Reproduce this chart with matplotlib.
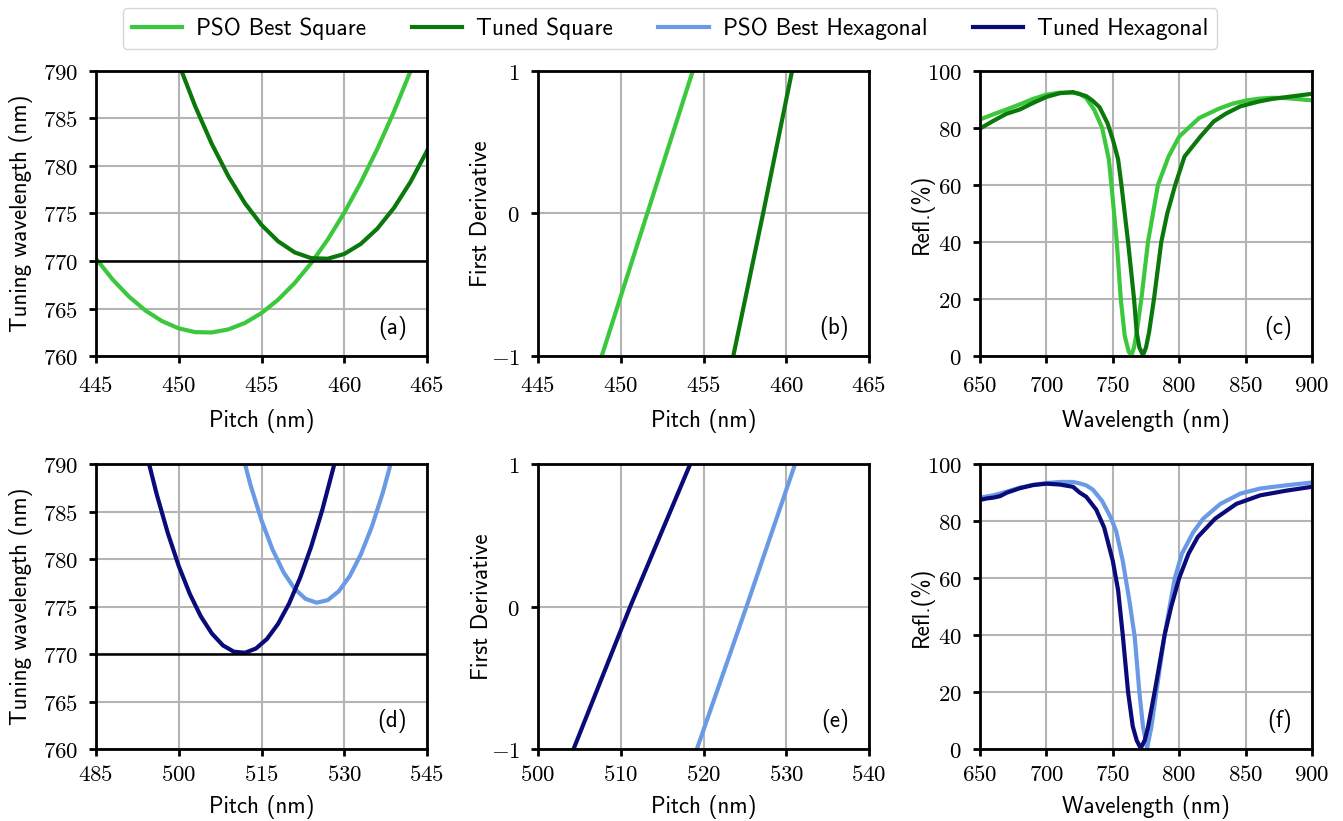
import numpy as np
import matplotlib
matplotlib.use("Agg")
import matplotlib.pyplot as plt
from matplotlib.ticker import FixedLocator, FuncFormatter
from matplotlib.lines import Line2D

plt.rcParams['mathtext.fontset'] = 'cm'
plt.rcParams['axes.unicode_minus'] = True

# ---------------- data ----------------
labels = ["PSO Best Square", "Tuned Square", "PSO Best Hexagonal", "Tuned Hexagonal"]
colors = ["#3cc83c", "#0b780b", "#6a9ae6", "#0a0a78"]

# (a) tuning wavelength vs pitch, square lattice
a_pitch_pso = [445, 446, 447, 448, 449, 450, 451, 452, 453, 454, 455, 456, 457, 458, 459, 460, 461, 462, 463, 464, 465]
a_wl_pso = [770.25, 768.06, 766.24, 764.77, 763.66, 762.91, 762.51, 762.48, 762.80, 763.48, 764.52,
            765.92, 767.67, 769.78, 772.25, 775.08, 778.27, 781.81, 785.71, 789.97, 794.6]
a_pitch_tuned = [449, 450, 451, 452, 453, 454, 455, 456, 457, 458, 459, 460, 461, 462, 463, 464, 465]
a_wl_tuned = [795.8, 790.76, 786.26, 782.31, 778.92, 776.08, 773.80, 772.08, 770.91, 770.30, 770.24,
              770.74, 771.80, 773.41, 775.58, 778.31, 781.59]
target_wl = 770

# (b) first derivative, square lattice
b_pitch_pso = [448.85, 451.6, 454.35]
b_der_pso = [-1, 0, 1]
b_pitch_tuned = [456.8, 458.6, 460.35]
b_der_tuned = [-1, 0, 1]

# (c) reflectance spectra, square lattice
c_wl_pso = [650, 660, 670, 680, 690, 700, 710, 720, 725, 730, 736, 742, 747, 749, 753, 756, 759, 762,
            764, 766, 768, 771.5, 776.5, 784, 792, 800, 815, 830, 840, 850, 860, 870, 880, 890, 900]
c_refl_pso = [83.0, 84.8, 86.5, 88.3, 90.2, 91.7, 92.4, 92.4, 92.0, 90.5, 86.4, 80, 69, 60, 40, 20, 7,
              1.5, 0.3, 3, 8.3, 20, 40, 60, 70, 77, 83.5, 86.8, 88.5, 89.6, 90.3, 90.6, 90.5, 90.1, 89.7]
c_wl_tuned = [650, 660, 670, 680, 690, 700, 710, 720, 730, 735, 740, 746, 750, 754, 756.5, 761.5, 766,
              768, 770, 772.7, 775, 777.3, 781, 786.5, 791, 797, 804, 816, 826, 835, 846, 860, 870, 880,
              890, 900]
c_refl_tuned = [79.8, 82.5, 85, 86.5, 88.8, 90.9, 92.2, 92.6, 91.2, 89.5, 87.3, 81.7, 76, 69, 60, 40, 20,
                8.3, 3, 0.3, 3, 8.3, 20, 40, 50, 60, 70, 77, 82.3, 85, 87.6, 89.3, 90.2, 90.8, 91.4, 92]

# (d) tuning wavelength vs pitch, hexagonal lattice
d_pitch_pso = [511, 513, 515, 517, 519, 521, 523, 525, 527, 529, 531, 533, 535, 537, 539]
d_wl_pso = [792.2, 787.80, 784.07, 781.00, 778.60, 776.87, 775.80, 775.40, 775.67, 776.60, 778.20,
            780.47, 783.40, 787.00, 791.26]
d_pitch_tuned = [494, 496, 498, 500, 502, 504, 506, 508, 510, 512, 514, 516, 518, 520, 522, 524, 526, 528, 530]
d_wl_tuned = [791.44, 786.82, 782.76, 779.26, 776.33, 773.96, 772.16, 770.91, 770.24, 770.13, 770.58,
              771.59, 773.17, 775.31, 778.02, 781.29, 785.13, 789.53, 794.49]

# (e) first derivative, hexagonal lattice
e_pitch_pso = [519.2, 525.2, 531.07]
e_der_pso = [-1, 0, 1]
e_pitch_tuned = [504.3, 511.15, 518.4]
e_der_tuned = [-1, 0, 1]

# (f) reflectance spectra, hexagonal lattice
f_wl_pso = [650, 660, 670, 680, 690, 700, 710, 720, 725, 730, 735, 742, 748.5, 752.5, 757.5, 762.5, 766.5,
            770, 772.7, 775.8, 779, 782.8, 789, 796.7, 802, 810.5, 818, 831, 846, 861, 880, 900]
f_refl_pso = [88.2, 89, 90.3, 91.7, 92.7, 93.3, 93.7, 93.7, 93.2, 92.5, 91, 87, 81.2, 76.5, 66, 52, 39.4,
              20, 8, 0.3, 7.6, 20, 40, 60, 68.5, 76, 80.8, 86, 89.6, 91.4, 92.5, 93.5]
f_wl_tuned = [650, 655, 660, 665, 670, 680, 690, 700, 710, 720, 725, 730, 737.5, 743.5, 750, 754, 757.5,
              761.5, 765, 768, 771, 774, 776.5, 781.5, 789, 794, 800, 807, 814, 827, 843, 861, 880, 900]
f_refl_tuned = [87.4, 87.9, 88.2, 88.7, 89.9, 91.5, 92.6, 93.1, 92.8, 92, 90, 88.5, 84, 77.7, 66, 55.7,
                40, 20, 8, 3, 0.3, 3, 7.6, 20, 40, 50, 60, 68.5, 74.4, 80.8, 86, 89, 90.6, 92]

# axis ticks
a_xticks = [445, 450, 455, 460, 465]
wl_yticks = [760, 765, 770, 775, 780, 785, 790]
der_yticks = [-1, 0, 1]
spec_xticks = [650, 700, 750, 800, 850, 900]
spec_yticks = [0, 20, 40, 60, 80, 100]
d_xticks = [485, 500, 515, 530, 545]
e_xticks = [500, 510, 520, 530, 540]

# ---------------- figure ----------------
W, H = 1343, 821
fig = plt.figure(figsize=(W / 100, H / 100), dpi=100)

def pos(x0, x1, y0, y1):
    return [x0 / W, 1 - y1 / H, (x1 - x0) / W, (y1 - y0) / H]

cols = [(96, 427), (538, 869), (980, 1312)]
rows = [(71, 356), (464, 749)]

LABEL_FONT = 'cmss10'
TICK_SIZE = 16.5
LABEL_SIZE = 16.5
LW = 3.0

def fmt(v, p):
    return r'$%d$' % int(round(v))

axes = {}
names = [['a', 'b', 'c'], ['d', 'e', 'f']]
xpad = [8, 5]
xlab_y = [-0.185, -0.16]
ylab_x = [[-0.19, -0.14, -0.139], [-0.19, -0.135, -0.139]]
for r, (y0, y1) in enumerate(rows):
    for c, (x0, x1) in enumerate(cols):
        ax = fig.add_axes(pos(x0, x1, y0, y1))
        axes[names[r][c]] = ax
        ax.set_axisbelow(True)
        ax.grid(True, color='#b4b4b4', lw=1.5)
        for s in ax.spines.values():
            s.set_linewidth(2.0)
            s.set_color('black')
        ax.tick_params(direction='out', length=5, width=2, labelsize=TICK_SIZE)
        ax.tick_params(axis='x', pad=xpad[r])
        ax.tick_params(axis='y', pad=8)
        ax.xaxis.set_major_formatter(FuncFormatter(fmt))
        ax.yaxis.set_major_formatter(FuncFormatter(fmt))
        ax.text(0.94, 0.055, '(%s)' % names[r][c], transform=ax.transAxes, ha='right', va='bottom',
                family=LABEL_FONT, fontsize=16.5)

# (a)
ax = axes['a']
ax.plot(a_pitch_pso, a_wl_pso, color=colors[0], lw=LW)
ax.plot(a_pitch_tuned, a_wl_tuned, color=colors[1], lw=LW)
ax.axhline(target_wl, color='black', lw=1.8)
ax.set_xlim(445, 465); ax.set_ylim(760, 790)
ax.xaxis.set_major_locator(FixedLocator(a_xticks)); ax.yaxis.set_major_locator(FixedLocator(wl_yticks))
ax.set_ylabel('Tuning wavelength (nm)', family=LABEL_FONT, fontsize=LABEL_SIZE)
ax.set_xlabel('Pitch (nm)', family=LABEL_FONT, fontsize=LABEL_SIZE)

# (b)
ax = axes['b']
ax.plot(b_pitch_pso, b_der_pso, color=colors[0], lw=LW)
ax.plot(b_pitch_tuned, b_der_tuned, color=colors[1], lw=LW)
ax.set_xlim(445, 465); ax.set_ylim(-1, 1)
ax.xaxis.set_major_locator(FixedLocator(a_xticks)); ax.yaxis.set_major_locator(FixedLocator(der_yticks))
ax.set_ylabel('First Derivative', family=LABEL_FONT, fontsize=LABEL_SIZE)
ax.set_xlabel('Pitch (nm)', family=LABEL_FONT, fontsize=LABEL_SIZE)

# (c)
ax = axes['c']
ax.plot(c_wl_pso, c_refl_pso, color=colors[0], lw=LW)
ax.plot(c_wl_tuned, c_refl_tuned, color=colors[1], lw=LW)
ax.set_xlim(650, 900); ax.set_ylim(0, 100)
ax.xaxis.set_major_locator(FixedLocator(spec_xticks)); ax.yaxis.set_major_locator(FixedLocator(spec_yticks))
ax.set_ylabel('Refl.(%)', family=LABEL_FONT, fontsize=LABEL_SIZE)
ax.set_xlabel('Wavelength (nm)', family=LABEL_FONT, fontsize=LABEL_SIZE)

# (d)
ax = axes['d']
ax.plot(d_pitch_pso, d_wl_pso, color=colors[2], lw=LW)
ax.plot(d_pitch_tuned, d_wl_tuned, color=colors[3], lw=LW)
ax.axhline(target_wl, color='black', lw=1.8)
ax.set_xlim(485, 545); ax.set_ylim(760, 790)
ax.xaxis.set_major_locator(FixedLocator(d_xticks)); ax.yaxis.set_major_locator(FixedLocator(wl_yticks))
ax.set_ylabel('Tuning wavelength (nm)', family=LABEL_FONT, fontsize=LABEL_SIZE)
ax.set_xlabel('Pitch (nm)', family=LABEL_FONT, fontsize=LABEL_SIZE)

# (e)
ax = axes['e']
ax.plot(e_pitch_pso, e_der_pso, color=colors[2], lw=LW)
ax.plot(e_pitch_tuned, e_der_tuned, color=colors[3], lw=LW)
ax.set_xlim(500, 540); ax.set_ylim(-1, 1)
ax.xaxis.set_major_locator(FixedLocator(e_xticks)); ax.yaxis.set_major_locator(FixedLocator(der_yticks))
ax.set_ylabel('First Derivative', family=LABEL_FONT, fontsize=LABEL_SIZE)
ax.set_xlabel('Pitch (nm)', family=LABEL_FONT, fontsize=LABEL_SIZE)

# (f)
ax = axes['f']
ax.plot(f_wl_pso, f_refl_pso, color=colors[2], lw=LW)
ax.plot(f_wl_tuned, f_refl_tuned, color=colors[3], lw=LW)
ax.set_xlim(650, 900); ax.set_ylim(0, 100)
ax.xaxis.set_major_locator(FixedLocator(spec_xticks)); ax.yaxis.set_major_locator(FixedLocator(spec_yticks))
ax.set_ylabel('Refl.(%)', family=LABEL_FONT, fontsize=LABEL_SIZE)
ax.set_xlabel('Wavelength (nm)', family=LABEL_FONT, fontsize=LABEL_SIZE)

for r in range(2):
    for c in range(3):
        ax = axes[names[r][c]]
        ax.yaxis.set_label_coords(ylab_x[r][c], 0.5)
        ax.xaxis.set_label_coords(0.5, xlab_y[r])

handles = [Line2D([], [], color=cc, lw=LW) for cc in colors]
fig.legend(handles, labels, loc='center', bbox_to_anchor=(670 / W, 1 - 28.5 / H), ncol=4,
           prop={'family': LABEL_FONT, 'size': 16.8}, frameon=True, fancybox=True,
           edgecolor='#cccccc', handlelength=2.15, handletextpad=0.6, columnspacing=1.95,
           borderpad=0.4)

fig.savefig('out.png', dpi=100)
